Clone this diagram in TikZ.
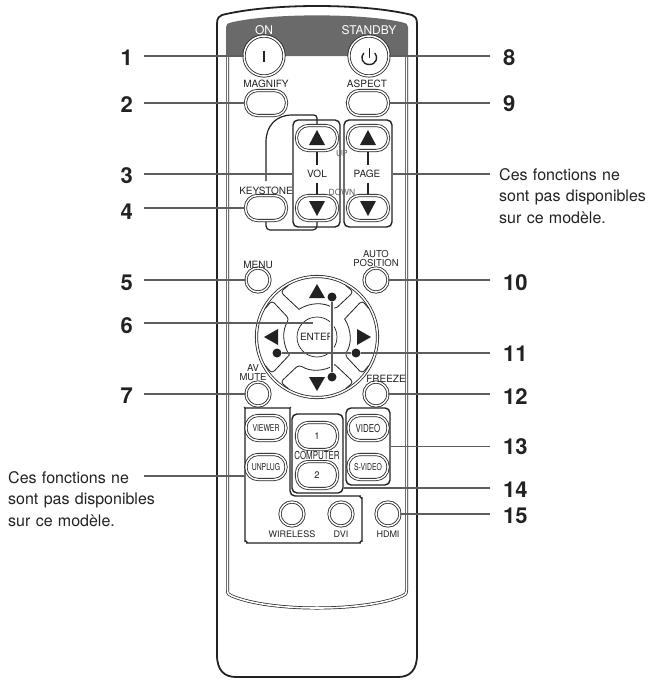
\documentclass[tikz,border=0pt]{standalone}
\usepackage{fontspec}
\setmainfont{TeX Gyre Heros}
\newcommand{\fsz}[1]{\fontsize{#1}{#1}\selectfont}
\newcommand{\cond}[1]{\scalebox{.72}[1]{#1}}
\definecolor{ink}{HTML}{222222}
\definecolor{leadc}{HTML}{5E5E5E}
\definecolor{panelc}{HTML}{6A6A6A}
\tikzset{
  btn/.style={draw=ink,fill=white,line width=.8pt,double=white,double distance=1.5pt,rectangle,
     rounded corners=12pt,inner sep=0pt,minimum width=#1,minimum height=25pt,text=ink,font=\fsz{9.5}},
  btn/.default=41pt,
  rbtn/.style={draw=ink,fill=white,line width=.8pt,double=white,double distance=1.5pt,circle,
     inner sep=0pt,minimum size=#1},
  rbtn/.default=24pt,
  grp/.style={draw=ink,line width=1.4pt,rounded corners=5pt,rectangle,inner sep=0pt},
  leader/.style={draw=leadc,line width=1.1pt},
  halo/.style={leader,preaction={draw=white,line width=3.5pt}},
  lab/.style={font=\fsz{10},text=ink,inner sep=0pt},
  num/.style={font=\fsz{22}\bfseries,text=ink,inner sep=0pt},
  note/.style={font=\fsz{16},text=ink,inner sep=0pt,align=left,text width=160pt},
  dot/.style={circle,fill=ink,inner sep=0pt,minimum size=9pt},
  tri/.style={fill=ink,draw=none},
  conn/.style={draw=ink,line width=1.2pt},
}
\begin{document}
\begin{tikzpicture}[x=1pt,y=-1pt]
\useasboundingbox (0,0) rectangle (651,681);
% body
\draw[ink,line width=1.8pt] (217,24) .. controls (217,18) and (219,16) .. (222,15) .. controls (270,3) and (364,3) .. (412,15)
  .. controls (415,16) and (417,18) .. (417,24) -- (417,655) .. controls (417,670) and (410,677) .. (398,677)
  -- (236,677) .. controls (224,677) and (217,670) .. (217,655) -- cycle;
% dark panel
\fill[panelc] (226,56) -- (226,27) .. controls (226,24) and (228,23) .. (231,22.5) .. controls (270,13) and (364,13) .. (403,22.5)
  .. controls (406,23) and (408,24) .. (408,27) -- (408,56) -- cycle;
\draw[ink,line width=.7pt,double=white,double distance=1.6pt] (227.5,56) -- (227.5,590) .. controls (227.5,594) and (229,595) .. (232,596)
  .. controls (270,612) and (364,612) .. (402,596) .. controls (405,595) and (406.5,594) .. (406.5,590) -- (406.5,56);
% groups
\node[grp,minimum width=47pt,minimum height=107pt] (volg) at (316.5,173.5) {};
\node[grp,minimum width=48pt,minimum height=107pt] (pageg) at (368,173.5) {};
\draw[conn,rounded corners=3pt] (266,181) -- (266,145) .. controls (266,126) and (276,115) .. (295,115) -- (317,115) -- (317,125);
\draw[conn,rounded corners=4pt] (317,220) -- (317,230) -- (266,230) -- (266,220);
\draw[conn] (317,150) -- (317,165) (317,183) -- (317,197);
\draw[conn] (368,150) -- (368,165) (368,183) -- (368,197);
\draw[grp] (245,413) .. controls (245,410) and (247,408) .. (250,408) -- (285,408) .. controls (288,408) and (290,410) .. (290,413)
  -- (290,496) -- (355,496) .. controls (359,496) and (362,499) .. (362,503) -- (362,536) .. controls (362,540) and (359,543) .. (355,543)
  -- (252,543) .. controls (248,543) and (245,540) .. (245,536) -- cycle;
\coordinate (biggrp) at (245,476);
\node[grp,fill=white,minimum width=51pt,minimum height=79pt] (compg) at (317.5,453.5) {};
\node[grp,minimum width=44pt,minimum height=77pt] (videog) at (368,446.5) {};
% round power buttons
\node[rbtn=40pt] (on) at (264,56) {};
\node[rbtn=40pt] (standby) at (369,56) {};
\draw[ink,line width=2.4pt] (on.center)+(0,-5.5) -- +(0,5.5);
\draw[ink,line width=1.4pt] (363.8,53) .. controls (360,57) and (362,64.5) .. (369.3,64.5) .. controls (376.5,64.5) and (378.5,57) .. (374.8,53);
\draw[ink,line width=1.4pt] (369.3,48) -- (369.3,58);
% upper buttons
\node[btn=41pt] (magnify) at (266,103) {};
\node[btn=41pt] (aspect) at (368,103) {};
\node[btn=41pt] (volup) at (317,138) {};
\node[btn=41pt] (voldn) at (317,208) {};
\node[btn=41pt] (pgup) at (368,138) {};
\node[btn=41pt] (pgdn) at (368,208) {};
\node[btn=41pt] (keystone) at (266,208) {};
\fill[tri] (317,130) -- (325,145) -- (309,145) -- cycle;
\fill[tri] (317,216) -- (325,201) -- (309,201) -- cycle;
\fill[tri] (368,130) -- (376,145) -- (360,145) -- cycle;
\fill[tri] (368,216) -- (376,201) -- (360,201) -- cycle;
% dpad
\node[rbtn=121pt] (dpad) at (317,337) {};
\begin{scope}[shift={(dpad.center)}]
\foreach \a in {0,90,180,270}
  \draw[ink,line width=.8pt,rounded corners=3.5pt] (\a+29:59) -- (\a+39:58) -- (\a+33:33) [sharp corners]
     .. controls (\a+11.5:35.5) and (\a-11.5:35.5) .. (\a-33:33) [rounded corners=3.5pt] -- (\a-39:58) -- (\a-29:59);
\end{scope}
\node[circle,draw=ink,line width=.7pt,minimum size=40pt,inner sep=0pt,font=\fsz{10},text=ink] (enter) at (317,337) {ENTER};
\fill[tri] (317,284) -- (325,298) -- (309,298) -- cycle;
\fill[tri] (317,391) -- (325,377) -- (309,377) -- cycle;
\fill[tri] (264,337) -- (278,329) -- (278,345) -- cycle;
\fill[tri] (371,337) -- (357,329) -- (357,345) -- cycle;
% round buttons
\node[rbtn] (menu) at (258,280) {};
\node[rbtn] (autopos) at (376,280) {};
\node[rbtn] (avmute) at (258,394) {};
\node[rbtn] (freeze) at (376,394) {};
\node[rbtn] (wireless) at (292,514) {};
\node[rbtn] (dvi) at (341,514) {};
\node[rbtn] (hdmi) at (388,514) {};
% lower buttons
\node[btn=40pt] (viewer) at (266,428) {\cond{VIEWER}};
\node[btn=40pt] (unplug) at (266,467) {\cond{UNPLUG}};
\node[btn=41pt,minimum height=27pt] (c1) at (317,436) {1};
\node[btn=41pt,minimum height=27pt] (c2) at (317,475) {2};
\node[btn=40pt] (video) at (368,428) {\cond{\fsz{11}VIDEO}};
\node[btn=40pt] (svideo) at (368,467) {\cond{S-VIDEO}};
% labels
\node[lab,font=\fsz{12},text=white] (tOn) at (264,30) {ON};
\node[lab,font=\fsz{12},text=white] (tStandby) at (369,30) {STANDBY};
\node[lab] (tMag) at (266,83.5) {MAGNIFY};
\node[lab] (tAsp) at (367,83.5) {ASPECT};
\node[lab] (tKey) at (266,191) {KEYSTONE};
\node[lab] (tVol) at (317,174) {VOL};
\node[lab] (tPage) at (367,174) {PAGE};
\node[lab,font=\fsz{8.5},text=leadc] (tUp) at (342,153) {UP};
\node[lab,font=\fsz{8.5},text=leadc] (tDown) at (342,192) {DOWN};
\node[lab] (tMenu) at (258,264.5) {MENU};
\node[lab,align=center,font=\fsz{9.5}] (tAuto) at (376,259) {AUTO\\[-.5pt]POSITION};
\node[lab,align=center,font=\fsz{9.5}] (tAv) at (253,373) {AV\\[-.5pt]MUTE};
\node[lab] (tFreeze) at (386,378.5) {FREEZE};
\node[lab,fill=white,inner sep=.5pt] (tComp) at (317,455.5) {\cond{\fsz{11}COMPUTER}};
\node[lab,font=\fsz{9}] (tWire) at (292,534) {WIRELESS};
\node[lab,font=\fsz{9}] (tDvi) at (341,534) {DVI};
\node[lab,font=\fsz{9}] (tHdmi) at (388,534) {HDMI};
% numbers
\foreach \n/\y in {1/58,2/105,3/176,4/212,5/283,6/326,7/396}
  \node[num,anchor=east] (n\n) at (133,\y) {\n};
\foreach \n/\y in {8/58,9/104,10/283,11/354,12/397,13/447,14/490,15/516}
  \node[num,anchor=west] (n\n) at (503,\y) {\n};
% notes
\node[note,anchor=west] (noteR) at (499,196) {Ces fonctions ne\\[5.5pt]sont pas disponibles\\[5.5pt]sur ce modèle.};
\node[note,anchor=west] (noteL) at (8,499) {Ces fonctions ne\\[5.5pt]sont pas disponibles\\[5.5pt]sur ce modèle.};
% leader ends
\foreach \n/\y in {1/56,2/103,3/174,4/208,5/280,6/323,7/394,L/476}
  \coordinate (a\n) at (144,\y);
\foreach \n/\y in {8/56,9/103,10/280,11/353,12/394,13/446.5,14/488,15/514}
  \coordinate (a\n) at (490,\y);
\coordinate (aN) at (490,174);
\coordinate (e6) at (313,323);
% leaders
\draw[leader] (a1) -- (a1 -| on.west);
\draw[leader] (a2) -- (magnify.west);
\draw[leader] (a3) -- (a3 -| volg.west);
\draw[leader] (a4) -- (keystone.west);
\draw[leader] (a5) -- (menu.west);
\draw[leader] (a6) -- (e6);
\draw[leader] (a7) -- (avmute.west);
\draw[leader] (aL) -- (biggrp);
\draw[leader] (a8) -- (a8 -| standby.east);
\draw[leader] (a9) -- (aspect.east);
\draw[leader] (aN) -- (aN -| pageg.east);
\draw[leader] (a10) -- (autopos.east);
\draw[leader] (a12) -- (freeze.east);
\draw[leader] (a13) -- (a13 -| videog.east);
\draw[leader] (a14) -- (a14 -| compg.east);
\draw[leader] (a15) -- (hdmi.east);
\node[dot] (dUp) at (332,297) {};
\node[dot] (dDn) at (332,377) {};
\node[dot] (dL) at (277,353) {};
\node[dot] (dR) at (356,353) {};
\draw[halo] (dUp) -- (dDn);
\draw[leader] (dL) -- (dR);
\draw[leader] (dR) -- (a11);
\end{tikzpicture}
\end{document}
